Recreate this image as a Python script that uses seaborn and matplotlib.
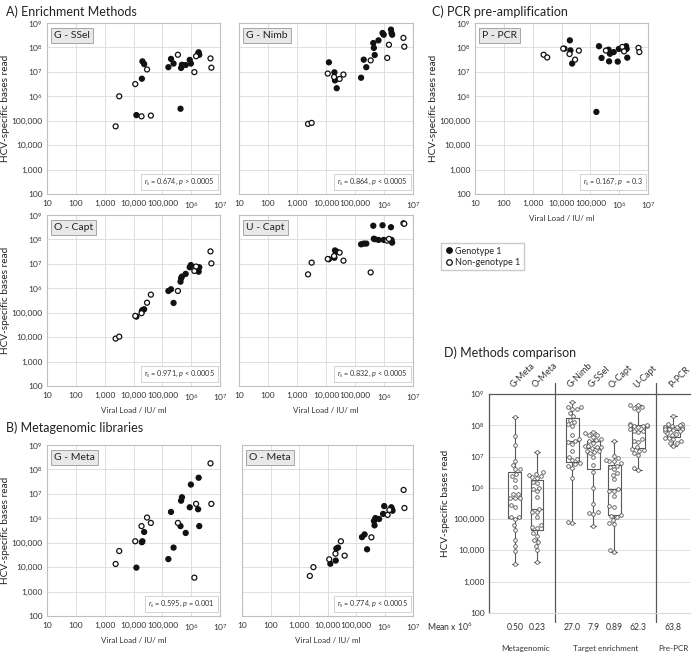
import numpy as np
import pandas as pd
import seaborn as sns
import matplotlib.pyplot as plt
import matplotlib.transforms as mtransforms
from matplotlib.lines import Line2D
from matplotlib.ticker import FuncFormatter, NullLocator, LogLocator

# per-sample viral load (IU/ml) and genotype group
viral_load = [12600, 19500, 20400, 23400, 162000, 200000, 245000, 427000,
              447000, 479000, 646000, 891000, 977000, 1740000, 1820000, 1910000,
              2400, 3200, 11500, 19000, 29500, 40000, 347000, 1290000, 1480000,
              4680000, 5010000]
genotype = ["Genotype 1"] * 16 + ["Non-genotype 1"] * 11

# log10 HCV-specific bases read per method, same sample order as above
g_ssel = [5.23, 6.72, 7.43, 7.32, 7.19, 7.53, 7.34, 5.49, 7.16, 7.29, 7.28, 7.49, 7.34, 7.75, 7.80, 7.70,
          4.77, 6.00, 6.50, 5.18, 7.10, 5.21, 7.70, 6.99, 7.64, 7.55, 7.17]
g_nimb = [7.39, 6.98, 6.65, 6.33, 6.76, 7.50, 7.19, 8.18, 7.98, 7.69, 8.29, 8.59, 8.52, 8.73, 8.59, 8.52,
          4.87, 4.91, 6.93, 6.79, 6.71, 6.89, 7.47, 7.57, 8.11, 8.39, 8.03]
o_capt = [4.84, 5.06, 5.11, 5.14, 5.89, 5.96, 5.40, 6.27, 6.41, 6.48, 6.59, 6.86, 6.95, 6.78, 6.68, 6.86,
          3.94, 4.02, 4.87, 4.98, 5.41, 5.74, 5.89, 6.71, 6.89, 7.51, 7.02]
u_capt = [7.19, 7.25, 7.55, 7.50, 7.80, 7.83, 7.83, 8.56, 8.03, 8.01, 7.98, 8.58, 7.98, 8.50, 7.98, 7.87,
          6.57, 7.05, 7.20, 7.32, 7.46, 7.13, 6.65, 7.95, 8.02, 8.66, 8.64]
p_pcr = [7.95, 8.29, 7.88, 7.34, 5.36, 8.05, 7.57, 7.91, 7.43, 7.74, 7.81, 7.42, 7.94, 8.05, 7.94, 7.58,
         7.70, 7.59, 7.95, 7.73, 7.50, 7.87, 7.87, 8.02, 7.84, 7.98, 7.81]
g_meta = [3.98, 5.02, 5.06, 5.44, 4.33, 6.26, 4.80, 5.68, 6.72, 6.86, 5.40, 6.45, 7.38, 6.37, 7.66, 5.68,
          4.13, 4.66, 5.06, 5.68, 6.03, 5.81, 5.81, 3.57, 6.59, 8.25, 6.59]
o_meta = [4.14, 4.27, 4.76, 4.80, 5.23, 5.34, 4.73, 5.89, 5.71, 6.01, 5.97, 6.18, 6.50, 6.45, 6.37, 6.31,
          3.64, 4.00, 4.32, 4.55, 5.06, 4.47, 5.22, 6.14, 6.34, 7.16, 6.42]

stats = {
    "G-SSel": r"$r_s$ = 0.674, $p$ > 0.0005",
    "G-Nimb": r"$r_s$ = 0.864, $p$ < 0.0005",
    "O-Capt": r"r$_s$ = 0.971, $p$ < 0.0005",
    "U-Capt": r"$r_s$ = 0.832, $p$ < 0.0005",
    "P-PCR": r"$r_s$ = 0.167, $p$  = 0.3",
    "G-Meta": r"$r_s$ = 0.595, $p$ = 0.001",
    "O-Meta": r"r$_s$ = 0.774, $p$ < 0.0005",
}

# methods comparison panel
methods_d = ["G-Meta", "O-Meta", "G-Nimb", "G-SSel", "O-Capt", "U-Capt", "P-PCR"]
means_d = ["0.50", "0.23", "27.0", "7.9", "0.89", "62.3", "63,8"]
groups_d = ["Metagenomic", "Target enrichment", "Pre-PCR"]

df = pd.DataFrame({"viral_load": viral_load, "genotype": genotype})
for name, vals in [("G-SSel", g_ssel), ("G-Nimb", g_nimb), ("O-Capt", o_capt), ("U-Capt", u_capt),
                   ("P-PCR", p_pcr), ("G-Meta", g_meta), ("O-Meta", o_meta)]:
    df[name] = 10 ** np.array(vals)

sns.set_style("white")
plt.rcParams["font.family"] = ["Lato", "DejaVu Sans"]
plt.rcParams["mathtext.fontset"] = "custom"
plt.rcParams["mathtext.rm"] = "Lato"
plt.rcParams["mathtext.it"] = "Lato:italic"

W, H = 697, 654
fig = plt.figure(figsize=(W / 100, H / 100), dpi=100)


def rect(l, t, r, b):
    return [l / W, 1 - b / H, (r - l) / W, (b - t) / H]


def log_fmt(v, pos):
    e = int(round(np.log10(v)))
    if e <= 5:
        return f"{int(round(v)):,}"
    return rf"10$^{{{e}}}$"


GRID = "#d9d9d9"
SPINE = "#bfbfbf"
palette = {"Genotype 1": "#111111", "Non-genotype 1": "white"}


def style_log_axes(ax, ylabels=True):
    ax.set_yscale("log")
    ax.set_ylim(100, 1e9)
    ax.set_yticks([10 ** k for k in range(2, 10)])
    ax.yaxis.set_major_formatter(FuncFormatter(log_fmt))
    ax.yaxis.set_minor_locator(NullLocator())
    ax.grid(axis="y", color=GRID, lw=0.6)
    ax.tick_params(axis="y", length=0, labelsize=6, colors="#333333", pad=3, labelleft=ylabels)


panels = [
    ("G-SSel", "G - SSel", (47, 23, 220, 194), True, False),
    ("G-Nimb", "G - Nimb", (239, 23, 413, 194), False, False),
    ("P-PCR", "P - PCR", (475, 23, 648, 194), True, True),
    ("O-Capt", "O - Capt", (47, 215, 220, 386), True, True),
    ("U-Capt", "U - Capt", (239, 215, 413, 386), False, True),
    ("G-Meta", "G - Meta", (47, 445, 220, 616), True, True),
    ("O-Meta", "O - Meta", (242, 445, 413, 616), False, True),
]

for col, label, r, ylab, xlab in panels:
    ax = fig.add_axes(rect(*r))
    ax.set_xscale("log")
    style_log_axes(ax, ylab)
    sns.scatterplot(data=df, x="viral_load", y=col, hue="genotype", palette=palette,
                    s=13, edgecolor="#111111", linewidth=0.9, legend=False, ax=ax, zorder=3)
    ax.set_xlim(10, 1e7)
    ax.set_xticks([10 ** k for k in range(1, 8)])
    ax.xaxis.set_major_formatter(FuncFormatter(log_fmt))
    ax.xaxis.set_minor_locator(LogLocator(base=10, subs=np.arange(2, 10)))
    ax.grid(axis="x", color=GRID, lw=0.6)
    ax.tick_params(axis="x", which="major", length=0, labelsize=6, colors="#333333", pad=4)
    ax.tick_params(axis="x", which="minor", length=1.5, color=SPINE, width=0.5)
    for s in ax.spines.values():
        s.set_color(SPINE)
        s.set_linewidth(0.8)
    ax.set_xlabel("Viral Load / IU/ ml" if xlab else "", fontsize=5.8, color="#333333", labelpad=3)
    ax.set_ylabel("HCV-specific bases read" if ylab else "", fontsize=7.2, color="#222222", labelpad=1)
    ax.text(0.04, 0.955, label, transform=ax.transAxes, fontsize=7.5, va="top", ha="left", color="#222222",
            bbox=dict(boxstyle="square,pad=0.3", fc="#e8e8e8", ec="#a6a6a6", lw=0.7), zorder=5)
    ax.text(0.97, 0.04, stats[col], transform=ax.transAxes, fontsize=5.2, va="bottom", ha="right", color="#333333",
            bbox=dict(boxstyle="square,pad=0.45", fc="white", ec="#cccccc", lw=0.6), zorder=5)

# panel titles
fig.text(6 / W, 1 - 12 / H, "A) Enrichment Methods", fontsize=9, va="center", color="#222222")
fig.text(432 / W, 1 - 12 / H, "C) PCR pre-amplification", fontsize=9, va="center", color="#222222")
fig.text(6 / W, 1 - 428 / H, "B) Metagenomic libraries", fontsize=9, va="center", color="#222222")
fig.text(444 / W, 1 - 353 / H, "D) Methods comparison", fontsize=9, va="center", color="#222222")

# legend
handles = [Line2D([], [], ls="", marker="o", ms=4, mfc=palette[g], mec="#111111", mew=0.9)
           for g in palette]
fig.legend(handles, list(palette), loc="upper left", bbox_to_anchor=(441 / W, 1 - 243 / H),
           fontsize=6.5, frameon=True, fancybox=False, edgecolor="#bfbfbf", borderpad=0.4,
           handletextpad=0.2, labelspacing=0.25, handlelength=1.0, borderaxespad=0)

# D) methods comparison
pos_d = [0, 1, 2.6, 3.55, 4.5, 5.6, 7.2]
rows = []
for m, p in zip(methods_d, pos_d):
    vals = df[m]
    if m == "P-PCR":
        vals = vals[vals > 1e6]  # outlier not shown in the comparison panel
    rows.append(pd.DataFrame({"pos": p, "reads": vals.values}))
dd = pd.concat(rows, ignore_index=True)

axd = fig.add_axes(rect(489, 394, 690, 613))
style_log_axes(axd)
sns.boxplot(data=dd, x="pos", y="reads", native_scale=True, log_scale=(False, True), whis=(0, 100),
            showfliers=False, fill=False, color="#595959", linecolor="#595959", linewidth=0.8,
            width=0.62, ax=axd)
sns.swarmplot(data=dd, x="pos", y="reads", native_scale=True, log_scale=(False, True), size=2.6,
              color="white", edgecolor="#555555", linewidth=0.6, ax=axd, zorder=3)
style_log_axes(axd)
axd.set_xlim(-1.18, 7.95)
axd.xaxis.tick_top()
axd.set_xticks(pos_d)
axd.set_xticklabels(methods_d, rotation=45, ha="left", va="bottom", rotation_mode="anchor", fontsize=6.5)
axd.tick_params(axis="x", length=0, pad=3, colors="#333333")
axd.set_xlabel("")
axd.set_ylabel("HCV-specific bases read", fontsize=7.2, color="#222222", labelpad=3)
for side in ["left", "top"]:
    axd.spines[side].set_color("#595959")
    axd.spines[side].set_linewidth(0.9)
axd.spines["right"].set_visible(False)
axd.spines["bottom"].set_color(GRID)

for x in [1.82, 6.41]:
    axd.axvline(x, ymin=-0.04, ymax=1.05, color="#595959", lw=0.9, clip_on=False)

trans = mtransforms.blended_transform_factory(axd.transData, axd.transAxes)
axd.text(-0.08, -0.064, "Mean x 10$^6$", transform=axd.transAxes, ha="right", va="center",
         fontsize=6.2, color="#333333")
for p, mtxt in zip(pos_d, means_d):
    axd.text(p, -0.064, mtxt, transform=trans, ha="center", va="center", fontsize=6.2, color="#333333")
for gx, g in zip([0.5, 4.1, 7.2], groups_d):
    axd.text(gx, -0.16, g, transform=trans, ha="center", va="center", fontsize=5.8, color="#333333")

fig.savefig("out.png", dpi=100)
